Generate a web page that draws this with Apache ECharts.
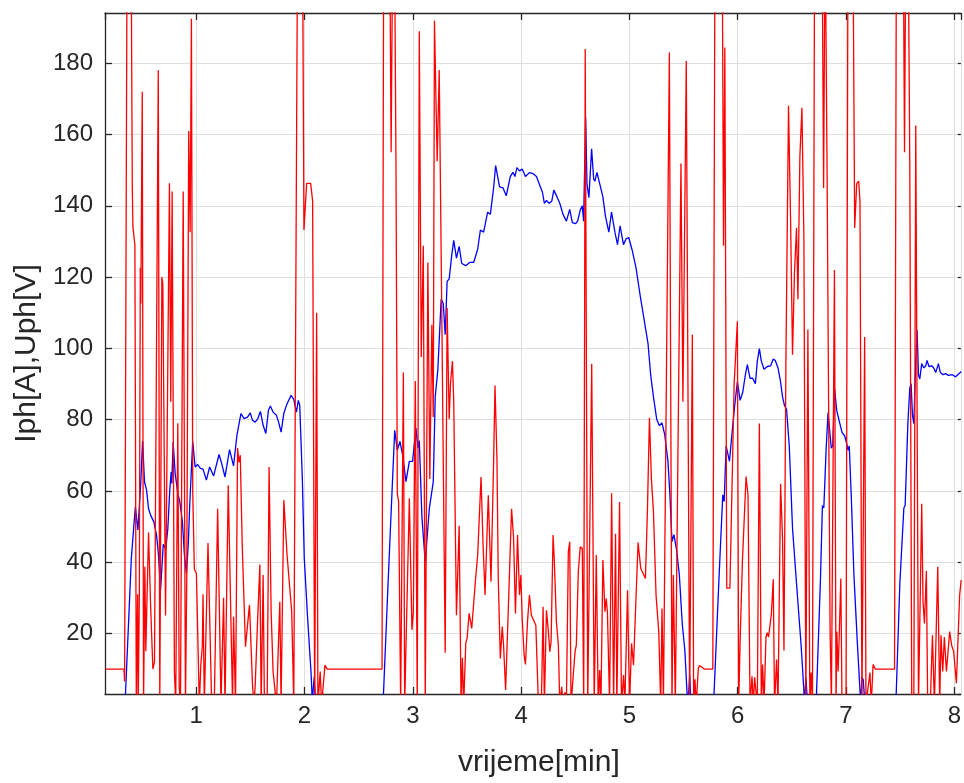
<!DOCTYPE html>
<html><head><meta charset="utf-8">
<script src="https://cdn.jsdelivr.net/npm/echarts@6/dist/echarts.min.js"></script>
<style>html,body{margin:0;padding:0;background:#fff}#c{width:964px;height:783px}</style>
</head><body><div id="c"></div>
<script>
const xTickLabels = [1, 2, 3, 4, 5, 6, 7, 8];
const yTickLabels = [20, 40, 60, 80, 100, 120, 140, 160, 180];
const xLabel = 'vrijeme[min]';
const yLabel = 'Iph[A],Uph[V]';

const blueT = [0.158,0.343,0.401,0.438,0.462,0.475,0.487,0.505,0.523,0.542,0.560,0.579,0.609,0.634,0.652,0.671,0.696,0.719,0.738,0.756,0.769,0.775,0.787,0.806,0.830,0.848,0.873,0.891,0.910,0.928,0.940,0.953,0.968,0.990,1.014,1.039,1.063,1.094,1.124,1.161,1.211,1.235,1.266,1.308,1.345,1.376,1.413,1.443,1.474,1.499,1.520,1.545,1.569,1.593,1.618,1.643,1.667,1.685,1.710,1.741,1.759,1.784,1.809,1.833,1.876,1.901,1.925,1.943,1.956,1.980,1.998,2.029,2.060,2.072,2.090,2.104,2.725,2.771,2.802,2.814,2.833,2.857,2.881,2.906,2.937,2.968,2.998,3.029,3.047,3.060,3.084,3.115,3.152,3.170,3.189,3.207,3.231,3.262,3.281,3.299,3.317,3.336,3.360,3.378,3.403,3.428,3.452,3.489,3.525,3.562,3.599,3.624,3.654,3.691,3.716,3.746,3.765,3.777,3.801,3.833,3.863,3.900,3.925,3.943,3.961,3.985,4.010,4.040,4.077,4.111,4.142,4.173,4.197,4.215,4.234,4.258,4.283,4.302,4.332,4.357,4.387,4.418,4.449,4.473,4.504,4.522,4.546,4.565,4.577,4.596,4.608,4.626,4.651,4.670,4.682,4.700,4.725,4.755,4.780,4.810,4.835,4.866,4.890,4.914,4.945,4.969,4.994,5.025,5.061,5.098,5.135,5.172,5.196,5.222,5.252,5.277,5.301,5.326,5.356,5.374,5.393,5.411,5.436,5.461,5.488,5.512,5.531,5.542,5.556,5.570,5.777,5.825,5.862,5.875,5.893,5.924,5.948,5.972,5.997,6.022,6.046,6.071,6.089,6.114,6.138,6.163,6.181,6.200,6.218,6.243,6.273,6.304,6.328,6.347,6.372,6.395,6.414,6.432,6.451,6.476,6.506,6.543,6.586,6.611,6.618,6.629,6.646,6.724,6.764,6.782,6.795,6.816,6.834,6.846,6.864,6.877,6.895,6.914,6.938,6.963,6.988,7.006,7.018,7.030,7.048,7.073,7.104,7.129,7.136,7.147,7.159,7.175,7.460,7.497,7.534,7.546,7.571,7.589,7.601,7.613,7.626,7.644,7.656,7.669,7.681,7.699,7.718,7.736,7.748,7.766,7.791,7.810,7.828,7.853,7.871,7.895,7.920,7.945,7.982,8.012,8.030,8.055,8.063];
const blueV = [0,0,41,55.5,49,48.5,61.6,73.9,62.5,60.2,55,53.2,51.3,47.6,42,32.1,45,43.6,49.4,60.2,65.3,62.1,73.7,64.9,59.3,57.1,51.3,42,36.8,45.7,55.8,56,73.9,66.7,67.4,66.3,66.1,63,66.7,64.2,70.2,67.7,63.9,71.6,67,75.6,81.7,80.3,80.7,81.9,79.8,79.3,80.3,82.3,78.4,76.1,82.6,83.8,82.1,81.2,79.5,76.5,81.7,84,86.8,85.7,82.1,85.4,84,63.5,41,24.2,9.3,1,7.9,0,0,33.6,55.5,56,77,71.4,73.9,70.1,62.6,68.3,68.3,77.6,72,74.1,52.7,40,54.9,55.2,62.6,86.4,93.9,113.8,112.6,103.8,118.8,119.5,126.3,130.3,125.3,128.6,123.8,123.2,124.1,124.1,127.8,133.2,132.6,138.2,137.6,145,151.3,151,145.3,145,142.8,148.2,149.4,148.2,150.7,149.8,150.3,148.2,149.3,149,148.2,145.7,143.8,140.7,141.5,140.7,141.3,144.4,142.5,140.7,137.6,135.7,139,135.3,135,135.7,138.8,140,135.7,164.8,146.3,142.3,156,147.5,146.9,149.4,146.3,142.5,136.9,132.6,138.2,132.6,129.1,134.4,129.1,130.7,131.1,127.6,122.6,115.1,108.2,101.3,92.6,86.4,80.1,78.3,79.1,75.8,68.3,58.9,45.8,47.7,43.3,36.4,22.7,15.2,4,0,8.3,0,0,34,58.9,57,72.6,68.3,76.4,83.9,90.7,85.4,87.6,92.6,95.4,91.6,91.6,90.1,96.4,99.9,96.4,94.1,94.9,95.1,97,96.6,94.5,90.7,86.4,83.9,82.9,72.6,49.5,34,16.4,4,0,7.7,0,0,35.2,55.9,55.2,71.4,82,81.5,72,72.6,88.6,82.6,79.5,76.4,75.4,73.3,71.4,72.6,58.9,36.4,17.7,4,0,7.7,7,0,0,34,55.2,55.9,78.9,88.9,90.1,81.4,78.9,96.4,105.1,92.6,91.4,95.7,94.5,95.1,96.6,94.9,95.1,94.5,93.2,95.7,93.2,92.6,92.9,92.4,92.6,92,91.6,93.2,93.5];

const redT = [0.158,0.333,0.339,0.346,0.362,0.381,0.399,0.410,0.416,0.434,0.447,0.459,0.465,0.475,0.484,0.489,0.502,0.514,0.526,0.535,0.546,0.560,0.579,0.600,0.615,0.650,0.664,0.683,0.692,0.717,0.753,0.765,0.778,0.799,0.811,0.830,0.843,0.855,0.880,0.901,0.913,0.931,0.944,0.956,0.968,0.983,1.002,1.029,1.043,1.057,1.063,1.075,1.109,1.143,1.167,1.198,1.229,1.253,1.266,1.296,1.336,1.345,1.363,1.382,1.395,1.407,1.425,1.455,1.492,1.520,1.533,1.545,1.563,1.588,1.600,1.618,1.630,1.655,1.673,1.692,1.710,1.741,1.772,1.784,1.809,1.839,1.857,1.882,1.901,1.913,1.936,1.959,1.982,1.995,2.020,2.057,2.075,2.094,2.106,2.112,2.124,2.133,2.145,2.158,2.189,2.210,2.716,2.731,2.763,2.789,2.800,2.812,2.828,2.845,2.857,2.869,2.888,2.913,2.925,2.943,2.968,2.992,3.005,3.023,3.041,3.060,3.078,3.097,3.115,3.139,3.157,3.176,3.189,3.200,3.225,3.244,3.268,3.299,3.317,3.336,3.348,3.366,3.378,3.403,3.428,3.446,3.458,3.470,3.489,3.501,3.520,3.544,3.562,3.580,3.599,3.630,3.649,3.667,3.697,3.722,3.746,3.759,3.777,3.789,3.808,3.826,3.838,3.857,3.881,3.912,3.930,3.948,3.967,3.985,3.998,4.010,4.028,4.040,4.059,4.077,4.095,4.111,4.136,4.160,4.185,4.191,4.203,4.215,4.234,4.252,4.265,4.277,4.295,4.307,4.326,4.344,4.357,4.375,4.387,4.406,4.418,4.436,4.449,4.461,4.479,4.498,4.510,4.528,4.546,4.565,4.578,4.592,4.615,4.633,4.652,4.675,4.694,4.712,4.725,4.737,4.755,4.774,4.786,4.797,4.817,4.836,4.854,4.872,4.884,4.909,4.927,4.946,4.958,4.983,5.001,5.020,5.038,5.056,5.080,5.105,5.123,5.148,5.166,5.185,5.203,5.222,5.246,5.271,5.289,5.301,5.314,5.369,5.393,5.406,5.424,5.476,5.494,5.525,5.556,5.581,5.593,5.605,5.617,5.636,5.648,5.691,5.770,5.790,5.827,5.859,5.869,5.881,5.899,5.928,5.967,5.997,6.009,6.022,6.043,6.077,6.095,6.114,6.132,6.144,6.156,6.181,6.200,6.218,6.230,6.243,6.261,6.273,6.285,6.310,6.328,6.340,6.359,6.372,6.396,6.414,6.427,6.445,6.469,6.488,6.506,6.524,6.543,6.556,6.574,6.593,6.611,6.629,6.648,6.666,6.678,6.690,6.710,6.742,6.779,6.793,6.807,6.825,6.853,6.865,6.893,6.908,6.915,6.927,6.936,6.952,6.963,7.000,7.018,7.044,7.065,7.080,7.099,7.117,7.129,7.147,7.161,7.172,7.184,7.202,7.221,7.233,7.250,7.270,7.448,7.465,7.497,7.529,7.540,7.552,7.571,7.589,7.607,7.626,7.644,7.656,7.669,7.686,7.699,7.711,7.724,7.742,7.754,7.778,7.798,7.816,7.833,7.847,7.865,7.877,7.893,7.908,7.927,7.957,7.975,7.994,8.019,8.031,8.049,8.063];
const redV = [10,10,6.5,7,215,240,215,145,134,129,0,31,0,31,122.6,112.6,172,0,38.7,15,30,48.3,28,10,12,178,0,120,118,25,146.3,85,144,9,0,79,5,0,144,0,36,161,132.6,192.5,60,38,36.8,0,11.3,16.7,31,0,45.4,0,0,55,0,30,0,61.6,0,24.7,0,72,68,70,44.8,16.3,28,5.5,0,5.5,20.5,39.3,0,36.4,0,0,66.7,26.1,9.3,0,28.9,0,57.4,42,41.5,26.1,0,0,215,240,215,133.2,146.3,146.3,141.3,0,0,110,0,0,9.3,0,11.1,10,10,215,240,205,155,205,230,150,59.3,56.9,0,93.2,0,0,57.9,21,26.1,90.8,0,189,97.6,128.8,0,124.1,63.3,106.6,80.7,191.9,152.5,178.1,108.8,14.6,111.3,80.1,90.1,96.4,85,25.1,50.2,0,13.2,0,17.2,18.6,25.6,21.4,21.9,35.4,42,63.9,44.8,30.8,58.8,34.5,68.1,89.6,69.1,35.4,13,21.9,16.7,4.1,26.1,55,47.1,25.6,47.6,30.8,36.4,24.2,13.9,11.3,23.3,30.8,25.1,24.7,22.3,0,0,6,27.5,0,26.5,20.5,14.9,17.7,47.6,40.1,23.3,16.7,0,5,0,3.5,0,42.9,45.7,0,0,14.9,16.7,37.3,44.3,43.8,0,184,0,0,95.7,0,42,0,9.7,0,40.6,26.1,29.8,26,0,59.3,0,48,0,56.9,0,8.3,0,32.1,0,17.2,11.1,26.1,45.5,38.2,38.4,35.4,54.1,80.5,63.5,54.1,30.7,20.5,0,27,0,183,0,36.4,0,151.9,85,180.6,0,103.8,0,7.1,0,10.2,11,10,10,215,240,200,128.8,184.4,32.7,32.7,90.1,107.6,0,17.7,40,64,58.9,0,8,0,7.7,0,78.9,0,11.3,0,19,20.2,19,25.2,35.2,0,12.7,0,62,46.4,15.2,96.4,168.1,136.3,98.2,121.3,133.8,113.8,153.8,167.5,131.3,0,105.3,0,9,0,215,240,215,145,220,150,20.5,0,122,0,20.5,9.3,18,35.4,0,0,215,240,210,133.8,146.3,146.9,141,0,0,103.2,0,0,9,0,11.3,10,10,215,240,215,155,215,230,150,0,0,162.5,162.5,0,0,56.4,29,22.8,37.5,0,0,19.5,0,0,38.7,0,19.5,9.3,19,9.3,20.5,16.7,14.9,6,6.4,30.7,35];

const zip = (a, b) => a.map((t, i) => [t, b[i]]);
const ink = '#262626';
const font = '"Liberation Sans", Arial, Helvetica, sans-serif';
const gridColor = '#dedede';

const chart = echarts.init(document.getElementById('c'), null, {renderer: 'canvas'});
const xBase = {
  type: 'value', min: 0.158, max: 8.06, splitNumber: 8, minInterval: 1, maxInterval: 1,
  axisLine: {show: true, onZero: false, lineStyle: {color: ink, width: 1.3}},
  axisTick: {show: true, inside: true, length: 7, lineStyle: {color: ink, width: 1.3}}
};
const yBase = {
  type: 'value', min: 3, max: 194.1, splitNumber: 10, minInterval: 20, maxInterval: 20,
  axisLine: {show: true, onZero: false, lineStyle: {color: ink, width: 1.3}},
  axisTick: {show: true, inside: true, length: 7, lineStyle: {color: ink, width: 1.3}}
};
chart.setOption({
  animation: false,
  backgroundColor: '#ffffff',
  grid: {left: 105, right: 0, top: 13, bottom: 86, containLabel: false},
  xAxis: [
    Object.assign({}, xBase, {
      position: 'bottom',
      name: xLabel, nameLocation: 'middle', nameGap: 54,
      nameTextStyle: {color: ink, fontSize: 30, fontFamily: font, padding: [0, 0, 0, 12]},
      axisLabel: {color: ink, fontSize: 24, fontFamily: font, margin: 10, showMinLabel: false, showMaxLabel: false,
        formatter: v => xTickLabels.includes(Math.round(v * 1000) / 1000) ? String(v) : ''},
      splitLine: {show: true, lineStyle: {color: gridColor, width: 1}}
    }),
    Object.assign({}, xBase, {
      position: 'top',
      axisLabel: {show: false}, splitLine: {show: false}
    })
  ],
  yAxis: [
    Object.assign({}, yBase, {
      position: 'left',
      name: yLabel, nameLocation: 'middle', nameGap: 58, nameRotate: 90,
      nameTextStyle: {color: ink, fontSize: 30, fontFamily: font},
      axisLabel: {color: ink, fontSize: 24, fontFamily: font, margin: 12, showMinLabel: false, showMaxLabel: false,
        formatter: v => yTickLabels.includes(Math.round(v)) && Math.abs(v - Math.round(v)) < 1e-6 ? String(v) : ''},
      splitLine: {show: true, lineStyle: {color: gridColor, width: 1}}
    }),
    Object.assign({}, yBase, {
      position: 'right',
      axisLine: {show: false},
      axisTick: {show: true, inside: true, length: 3, lineStyle: {color: ink, width: 1.3}},
      axisLabel: {show: false}, splitLine: {show: false}
    })
  ],
  series: [
    {type: 'line', name: 'Iph', data: zip(blueT, blueV), xAxisIndex: 0, yAxisIndex: 0,
      showSymbol: false, symbol: 'none', clip: true, lineStyle: {color: '#0000ff', width: 1.3}, z: 2},
    {type: 'line', name: 'Uph', data: zip(redT, redV), xAxisIndex: 0, yAxisIndex: 0,
      showSymbol: false, symbol: 'none', clip: true, lineStyle: {color: '#ff0000', width: 1.3}, z: 3}
  ]
});
</script></body></html>
